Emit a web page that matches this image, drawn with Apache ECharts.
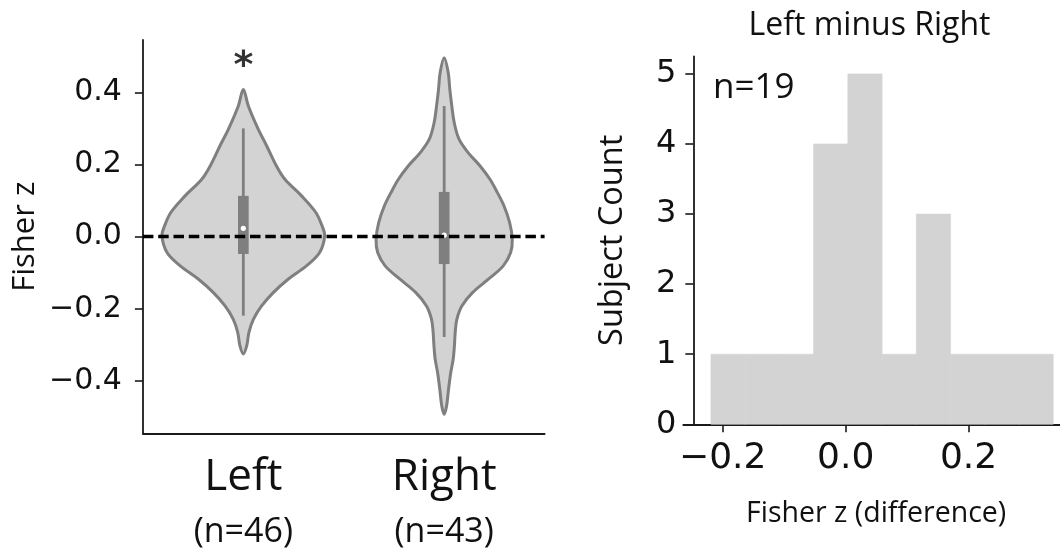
<!DOCTYPE html>
<html><head><meta charset="utf-8">
<script src="https://cdn.jsdelivr.net/npm/echarts@6/dist/echarts.min.js"></script>
<style>html,body{margin:0;padding:0;background:#fff}#c{width:1060px;height:560px}</style>
</head><body><div id="c"></div>
<script>
// ---------- data ----------
const groups = ['Left', 'Right'];
const groupN = ['(n=46)', '(n=43)'];
const violinYTicks = [-0.4, -0.2, 0, 0.2, 0.4];
// violin outlines: y value and half-width (in category units)
const leftY  = [0.408, 0.362, 0.298, 0.252, 0.196, 0.159, 0.113, 0.067, 0.030, 0.002, -0.044, -0.081, -0.118, -0.155, -0.192, -0.229, -0.265, -0.302, -0.325];
const leftHW = [0, 0.025, 0.074, 0.116, 0.165, 0.207, 0.290, 0.361, 0.392, 0.405, 0.380, 0.314, 0.223, 0.149, 0.091, 0.050, 0.028, 0.017, 0];
const rightY  = [0.496, 0.455, 0.409, 0.362, 0.316, 0.270, 0.233, 0.196, 0.159, 0.122, 0.085, 0.039, -0.007, -0.044, -0.081, -0.118, -0.155, -0.192, -0.229, -0.265, -0.302, -0.339, -0.376, -0.422, -0.469, -0.492];
const rightHW = [0, 0.020, 0.028, 0.038, 0.050, 0.074, 0.119, 0.179, 0.228, 0.265, 0.298, 0.326, 0.339, 0.331, 0.294, 0.220, 0.141, 0.088, 0.063, 0.055, 0.051, 0.045, 0.033, 0.022, 0.012, 0];
const whiskerLow  = [-0.219, -0.278];
const whiskerHigh = [0.300, 0.362];
const q1 = [-0.048, -0.076];
const q3 = [0.113, 0.124];
const medians = [0.023, 0.004];
const sigMarks = ['*', ''];
const sigY = [0.47, null];

const histTitle = 'Left minus Right';
const histN = 'n=19';
const histEdges = [-0.2192, -0.1635, -0.1078, -0.0521, 0.0036, 0.0593, 0.1150, 0.1707, 0.2264, 0.2821, 0.3378];
const histCounts = [1, 1, 1, 4, 5, 1, 3, 1, 1, 1];
const histXTicks = [-0.2, 0, 0.2];
const histYTicks = [0, 1, 2, 3, 4, 5];

// ---------- helpers ----------
const profiles = [{y: leftY, hw: leftHW}, {y: rightY, hw: rightHW}];
const TXT = '#111';
const AX = '#1a1a1a';
const SANS = 'Open Sans';
const TICKF = 'DejaVu Sans';
const fmt = v => (v < 0 ? '\u2212' : '') + Math.abs(v).toFixed(1);

function renderViolin(params, api) {
  const i = api.value(0);
  const p = profiles[i];
  const band = api.size([1, 0])[0];
  const right = [], left = [];
  for (let k = 0; k < p.y.length; k++) {
    const c = api.coord([i, p.y[k]]);
    right.push([c[0] + p.hw[k] * band, c[1]]);
    if (k > 0 && k < p.y.length - 1) left.push([c[0] - p.hw[k] * band, c[1]]);
  }
  const pts = right.concat(left.reverse());
  const cTop = api.coord([i, whiskerHigh[i]]);
  const cBot = api.coord([i, whiskerLow[i]]);
  const bTop = api.coord([i, q3[i]]);
  const bBot = api.coord([i, q1[i]]);
  const med = api.coord([i, medians[i]]);
  const bw = 10.7;
  return {
    type: 'group',
    children: [
      {type: 'polygon', shape: {points: pts, smooth: 0.35},
       style: {fill: '#d3d3d3', stroke: '#7f7f7f', lineWidth: 3, lineJoin: 'round'}},
      {type: 'line', shape: {x1: cTop[0], y1: cTop[1], x2: cBot[0], y2: cBot[1]},
       style: {stroke: '#7f7f7f', lineWidth: 2.8}},
      {type: 'rect', shape: {x: bTop[0] - bw / 2, y: bTop[1], width: bw, height: bBot[1] - bTop[1]},
       style: {fill: '#7f7f7f'}},
      {type: 'circle', shape: {cx: med[0], cy: med[1], r: 2.6}, style: {fill: '#fff'}, z2: 10}
    ]
  };
}

function renderHist(params, api) {
  const i = params.dataIndex;
  const a = api.coord([histEdges[i], histCounts[i]]);
  const b = api.coord([histEdges[i + 1], 0]);
  return {type: 'rect', shape: {x: a[0], y: a[1], width: b[0] - a[0], height: b[1] - a[1]},
          style: {fill: '#d3d3d3', stroke: '#d3d3d3', lineWidth: 0.6}};
}

const chart = echarts.init(document.getElementById('c'), null, {renderer: 'canvas'});
chart.setOption({
  animation: false,
  backgroundColor: '#fff',
  grid: [
    {left: 142.9, top: 40, width: 401.7, height: 393.3},
    {left: 683.3, top: 56.4, right: 0, bottom: 135.7}
  ],
  xAxis: [
    {type: 'category', gridIndex: 0, data: groups, boundaryGap: true,
     axisLine: {onZero: false, lineStyle: {color: AX, width: 1.8}},
     axisTick: {alignWithLabel: true, length: 8, lineStyle: {color: AX, width: 1.6}},
     axisLabel: {margin: 17, interval: 0,
       formatter: (v, idx) => '{a|' + v + '}\n{b|' + groupN[idx] + '}',
       rich: {a: {fontFamily: SANS, fontSize: 44, lineHeight: 55, color: TXT},
              b: {fontFamily: SANS, fontSize: 34, lineHeight: 55, color: TXT}}},
     splitLine: {show: false}},
    {type: 'value', gridIndex: 1, min: -0.2642, max: 0.3488,
     axisLine: {onZero: false, lineStyle: {color: AX, width: 1.8}},
     axisTick: {customValues: histXTicks, length: 8, lineStyle: {color: AX, width: 1.6}},
     axisLabel: {customValues: histXTicks, formatter: fmt, margin: 16,
       fontFamily: TICKF, fontSize: 36, color: TXT},
     splitLine: {show: false},
     name: 'Fisher z (difference)', nameLocation: 'middle', nameGap: 75,
     nameTextStyle: {fontFamily: SANS, fontSize: 28.5, color: TXT, padding: [0, 0, 0, 9]}}
  ],
  yAxis: [
    {type: 'value', gridIndex: 0, min: -0.545, max: 0.545,
     axisLine: {show: true, onZero: false, lineStyle: {color: AX, width: 1.8}},
     axisTick: {show: true, customValues: violinYTicks, length: 8, lineStyle: {color: AX, width: 1.6}},
     axisLabel: {customValues: violinYTicks, formatter: fmt, margin: 21,
       fontFamily: TICKF, fontSize: 30, color: TXT},
     splitLine: {show: false},
     name: 'Fisher z', nameLocation: 'middle', nameGap: 102, nameRotate: 90,
     nameTextStyle: {fontFamily: SANS, fontSize: 31, color: TXT}},
    {type: 'value', gridIndex: 1, min: 0, max: 5.25, offset: -10,
     axisLine: {show: true, onZero: false, lineStyle: {color: AX, width: 1.8}},
     axisTick: {show: true, customValues: histYTicks, length: 8, lineStyle: {color: AX, width: 1.6}},
     axisLabel: {customValues: histYTicks, margin: 17,
       fontFamily: TICKF, fontSize: 32, color: TXT},
     splitLine: {show: false},
     name: 'Subject Count', nameLocation: 'middle', nameGap: 64, nameRotate: 90,
     nameTextStyle: {fontFamily: SANS, fontSize: 32.5, color: TXT}}
  ],
  series: [
    {type: 'custom', xAxisIndex: 0, yAxisIndex: 0, renderItem: renderViolin,
     data: groups.map((g, i) => [i, medians[i]]), z: 2, silent: true},
    {type: 'line', xAxisIndex: 0, yAxisIndex: 0, data: [], z: 5, silent: true,
     markLine: {silent: true, symbol: ['none', 'none'], label: {show: false},
       lineStyle: {color: '#000', width: 3.3, type: [10.5, 4.8], opacity: 1},
       emphasis: {disabled: true},
       data: [{yAxis: 0}]}},
    {type: 'scatter', xAxisIndex: 0, yAxisIndex: 0, symbolSize: 0, silent: true,
     data: groups.map((g, i) => [i, sigY[i]]).filter(d => d[1] !== null),
     label: {show: true, position: 'inside', formatter: p => sigMarks[p.dataIndex],
       fontFamily: 'DejaVu Sans', fontWeight: 'bold', fontSize: 38, color: '#000', textBorderWidth: 0}},
    {type: 'custom', xAxisIndex: 1, yAxisIndex: 1, renderItem: renderHist,
     data: histCounts.map((c, i) => [histEdges[i], c]), z: 2, silent: true}
  ],
  graphic: [
    {type: 'text', style: {text: histTitle, x: 869.5, y: 26, textAlign: 'center', textVerticalAlign: 'middle',
      fontFamily: SANS, fontSize: 32, fill: TXT}},
    {type: 'text', style: {text: histN, x: 713, y: 88, textAlign: 'left', textVerticalAlign: 'middle',
      fontFamily: SANS, fontSize: 35, fill: TXT}}
  ]
});
</script></body></html>
